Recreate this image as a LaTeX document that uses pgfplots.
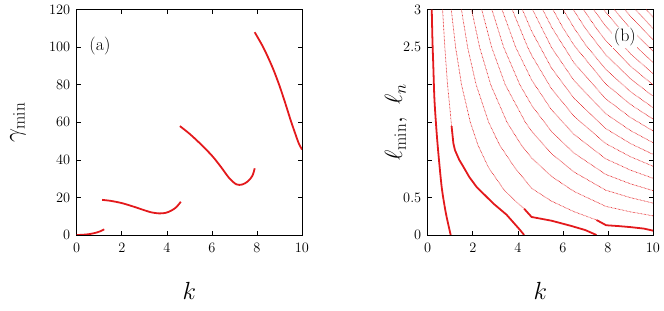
\documentclass[border=0pt]{standalone}
\usepackage{pgfplots}
\pgfplotsset{compat=1.18}
\definecolor{myred}{rgb}{0.89,0.1,0.11}
\begin{document}
\begin{tikzpicture}
\useasboundingbox (0,0) rectangle (664bp,311bp);
\pgfplotsset{
 common/.style={
  scale only axis, width=225.3bp, height=225.3bp,
  anchor=south west,
  xmin=0,xmax=10, xtick={0,2,...,10},
  tick align=inside,
  tick label style={font=\fontsize{15.5}{18}\selectfont},
  xticklabel style={yshift=-5bp},
  yticklabel style={xshift=-3bp},
  label style={font=\fontsize{26}{30}\selectfont},
  xlabel={$k$},
  xlabel style={at={(axis description cs:0.5,-0.2486)},anchor=center},
  axis line style={line width=0.6pt},
  every tick/.style={black, line width=0.6pt},
  major tick length=4bp,
 },
 thk/.style={myred, line width=1.8pt, no marks, line join=round},
 dot/.style={myred, line width=0.7pt, dash pattern=on 0.6pt off 0.8pt, no marks},
}
\begin{axis}[common, at={(76.7bp,76bp)}, ymin=0,ymax=120, ytick={0,20,...,120},
 ylabel={$\gamma_{\mathrm{min}}$}, ylabel style={at={(axis description cs:-0.2605,0.5)},anchor=center}]
\addplot[thk, smooth, tension=0.5] coordinates {(0,0)(0.3,0.15)(0.6,0.55)(0.88,1.3)(1.05,2.0)(1.22,3.0)};
\addplot[thk, smooth, tension=0.5] coordinates {(1.13,18.7)(1.5,18.2)(2,17.0)(2.5,15.2)(3,13.2)(3.3,12.1)(3.66,11.5)(3.95,11.8)(4.2,13.0)(4.42,14.8)(4.62,17.7)};
\addplot[thk, smooth, tension=0.5] coordinates {(4.58,58)(5,54)(5.47,48.8)(6,42.3)(6.4,36.3)(6.75,30.6)(7.08,27.0)(7.35,26.9)(7.6,28.6)(7.8,31.6)(7.9,35.5)};
\addplot[thk, smooth, tension=0.5] coordinates {(7.9,108)(8.3,99.5)(8.7,89)(9.0,79.5)(9.25,70.5)(9.5,61)(9.7,54)(9.85,49)(10,45.5)};
\node[font=\fontsize{18}{20}\selectfont] at (axis cs:1.03,100.7) {(a)};
\end{axis}
\begin{axis}[common, at={(427.7bp,76bp)}, ymin=0,ymax=3, ytick={0,0.5,1,1.5,2,2.5,3},
 yticklabels={$0$,$0.5$,,,,$2.5$,$3$},
 ylabel={$\ell_{\mathrm{min}},\ \ell_n$}, ylabel style={at={(axis description cs:-0.1407,0.5)},anchor=center}]
% dotted family
\addplot[dot] coordinates {(0.66,3)(0.76,2.5)(0.88,2.0)(0.98,1.7)(1.06,1.45)};
\addplot[dot] coordinates {(1.047,3)(1.238,2.5)(1.502,2)(1.892,1.5)(2.228,1.2)(2.696,0.9)(3.39,0.6)(3.87,0.46)(4.28,0.35)};
\addplot[dot] coordinates {(1.498,3)(1.771,2.5)(2.150,2)(2.707,1.5)(3.188,1.2)(3.857,0.9)(4.62,0.62)(5.5,0.45)(6.5,0.31)(7.49,0.2)};
\addplot[dot] coordinates {(1.949,3)(2.304,2.5)(2.797,2)(3.522,1.5)(4.148,1.2)(4.62,1.024)(5.5,0.779)(6.5,0.579)(7.9,0.382)(9,0.308)(10,0.255)};
\addplot[dot] coordinates {(2.400,3)(2.838,2.5)(3.444,2)(4.337,1.5)(4.62,1.379)(5.5,1.082)(6.5,0.838)(7.9,0.597)(9,0.497)(10,0.425)};
\addplot[dot] coordinates {(2.851,3)(3.371,2.5)(4.091,2)(4.62,1.724)(5.5,1.376)(6.5,1.090)(7.9,0.807)(9,0.681)(10,0.591)};
\addplot[dot] coordinates {(3.302,3)(3.904,2.5)(4.62,2.061)(5.5,1.665)(6.5,1.338)(7.9,1.015)(9,0.864)(10,0.755)};
\addplot[dot] coordinates {(3.753,3)(4.438,2.5)(4.62,2.389)(5.5,1.945)(6.5,1.580)(7.9,1.218)(9,1.042)(10,0.916)};
\addplot[dot] coordinates {(4.204,3)(4.62,2.710)(5.5,2.221)(6.5,1.818)(7.9,1.418)(9,1.218)(10,1.074)};
\addplot[dot] coordinates {(4.657,3)(5.5,2.494)(6.5,2.054)(7.9,1.615)(9,1.391)(10,1.229)};
\addplot[dot] coordinates {(5.109,3)(5.5,2.767)(6.5,2.290)(7.9,1.814)(9,1.565)(10,1.386)};
\addplot[dot] coordinates {(5.562,3)(6.0,2.760)(6.5,2.524)(7.9,2.012)(9,1.739)(10,1.543)};
\addplot[dot] coordinates {(6.015,3)(6.5,2.755)(7.0,2.536)(7.9,2.206)(9,1.909)(10,1.696)};
\addplot[dot] coordinates {(6.467,3)(7.0,2.750)(7.9,2.400)(9,2.080)(10,1.849)};
\addplot[dot] coordinates {(6.920,3)(7.5,2.745)(7.9,2.591)(9,2.247)(10,2.0)};
\addplot[dot] coordinates {(7.372,3)(7.9,2.781)(9,2.413)(10,2.149)};
\addplot[dot] coordinates {(7.825,3)(7.9,2.969)(9,2.578)(10,2.298)};
\addplot[dot] coordinates {(8.29,3)(9,2.746)(10,2.449)};
\addplot[dot] coordinates {(8.76,3)(9,2.913)(10,2.6)};
\addplot[dot] coordinates {(9.23,3)(10,2.751)};
\addplot[dot] coordinates {(9.70,3)(10,2.902)};
% thick minimum branches
\addplot[thk, smooth, tension=0.5] coordinates {(0.18,3)(0.21,2.6)(0.25,2.24)(0.3,1.8)(0.4,1.35)(0.5,1.0)(0.62,0.64)(0.73,0.42)(0.84,0.24)(1.02,0)};
\addplot[thk] coordinates {(1.06,1.45)(1.14,1.22)(1.21,1.13)(1.4,1.0)(1.58,0.91)(1.85,0.77)(2.17,0.64)(2.91,0.42)(3.5,0.27)(4.09,0.07)(4.28,0)};
\addplot[thk] coordinates {(4.28,0.35)(4.61,0.24)(5.5,0.19)(6.38,0.12)(7.0,0.065)(7.49,0)};
\addplot[thk] coordinates {(7.49,0.2)(7.92,0.13)(8.5,0.118)(9,0.105)(9.6,0.085)(10,0.058)};
\node[fill=white, inner sep=1.5pt, font=\fontsize{18}{20}\selectfont] at (axis cs:8.75,2.63) {(b)};
\end{axis}
\end{tikzpicture}
\end{document}
